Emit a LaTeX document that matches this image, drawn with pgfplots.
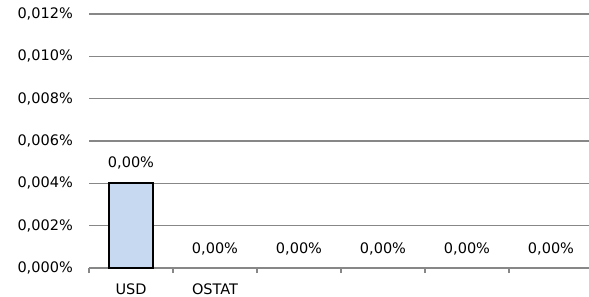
\documentclass[border=0pt]{standalone}
\usepackage{fontspec}
\setmainfont{DejaVu Sans}
\usepackage{pgfplots}
\pgfplotsset{compat=1.18}
\definecolor{barfill}{HTML}{C6D9F1}
\definecolor{gridgray}{HTML}{878787}
\newcommand{\chartfont}{\fontsize{14.5bp}{17bp}\selectfont}
\begin{document}
\chartfont
\begin{tikzpicture}
\path[use as bounding box] (-89bp,-29bp) rectangle (500bp,268bp);
\begin{axis}[
  at={(0,0)}, anchor=south west,
  scale only axis,
  width=504bp, height=254bp,
  xmin=-0.5, xmax=5.5,
  ymin=0, ymax=0.012,
  scaled y ticks=false,
  axis line style={draw=none},
  tick pos=left,
  ytick={0,0.002,0.004,0.006,0.008,0.010,0.012},
  yticklabels={{0,000\%},{0,002\%},{0,004\%},{0,006\%},{0,008\%},{0,010\%},{0,012\%}},
  ymajorgrids,
  grid style={gridgray, line width=1.3bp},
  ytick style={draw=none},
  xtick={0,1,2,3,4,5},
  xticklabels={USD,OSTAT,,,,},
  xtick style={draw=none},
  extra x ticks={-0.5,0.5,1.5,2.5,3.5,4.5,5.5},
  extra x tick labels={},
  extra x tick style={grid=none, xtick style={draw=gridgray, line width=1.3bp}, major tick length=5bp, tick align=outside},
  yticklabel style={inner sep=0pt, anchor=east, xshift=-16bp, font=\chartfont},
  xticklabel style={inner sep=0pt, anchor=north, yshift=-16bp, font=\chartfont},
  clip=false,
]
\draw[gridgray, line width=1.3bp] (axis cs:-0.5,0) -- (axis cs:5.5,0);
\addplot[ybar, bar width=43bp, fill=barfill, draw=black, line width=2bp,
  nodes near coords, point meta=explicit symbolic,
  every node near coord/.append style={font=\chartfont, anchor=south, inner sep=0pt, yshift=13bp, black}]
  table[meta=lab] {
x y lab
0 0.004 {0,00\%}
};
\addplot[only marks, mark=none, draw=none,
  nodes near coords, point meta=explicit symbolic,
  every node near coord/.append style={font=\chartfont, anchor=south, inner sep=0pt, yshift=13bp, black}]
  table[meta=lab] {
x y lab
1 0 {0,00\%}
2 0 {0,00\%}
3 0 {0,00\%}
4 0 {0,00\%}
5 0 {0,00\%}
};
\end{axis}
\end{tikzpicture}
\end{document}
